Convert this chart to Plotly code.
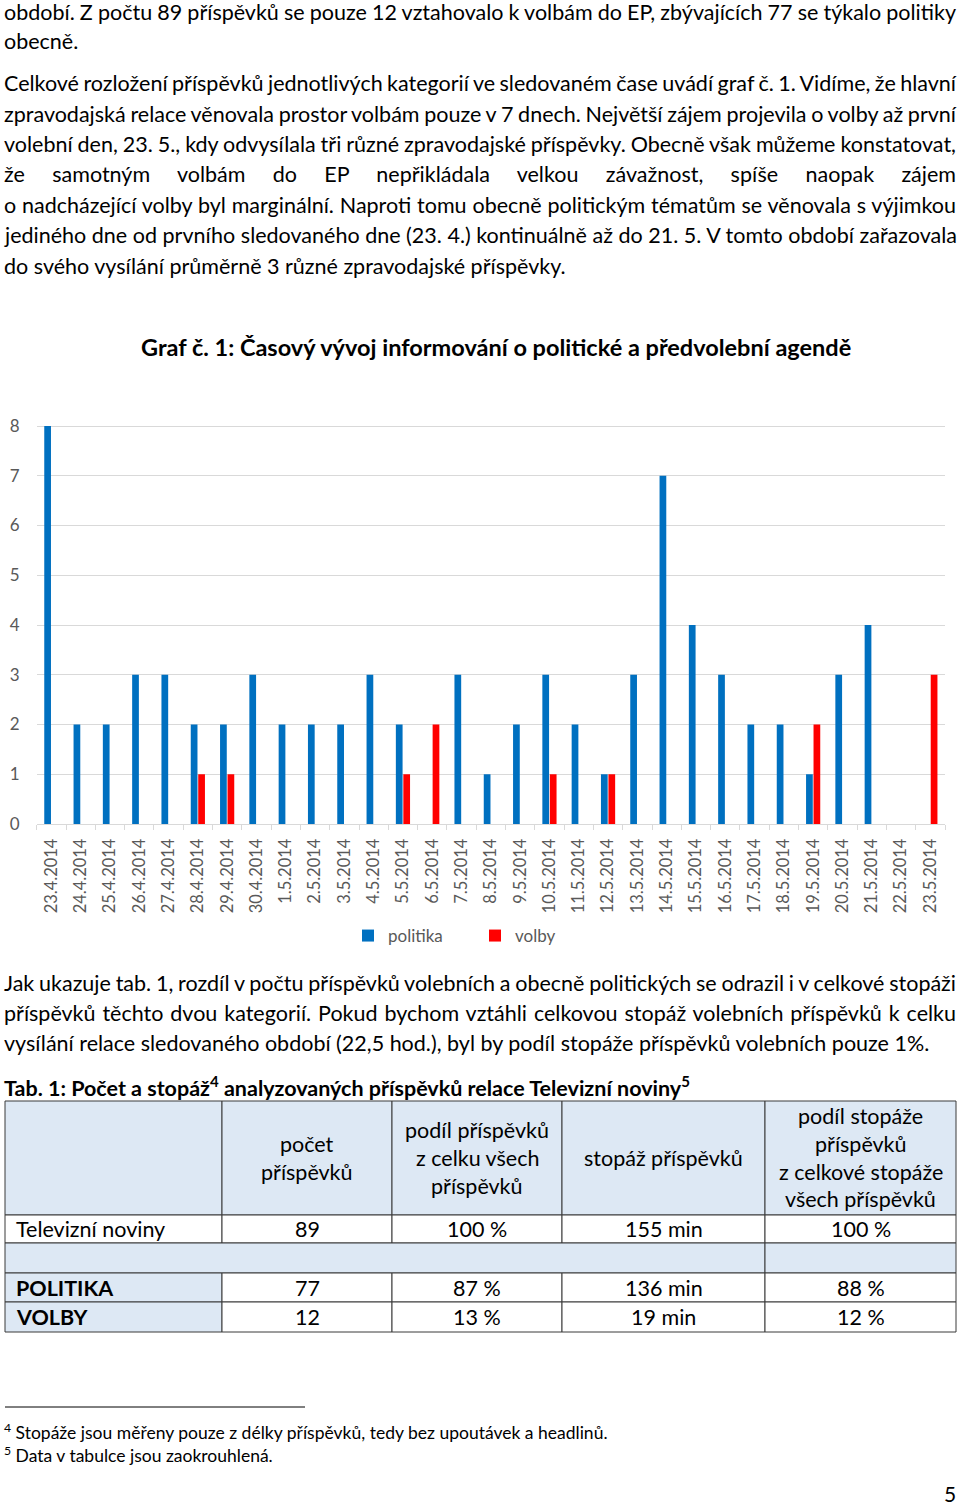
import plotly.graph_objects as go

# ---------------- data ----------------
dates = ["23.4.2014", "24.4.2014", "25.4.2014", "26.4.2014", "27.4.2014", "28.4.2014",
         "29.4.2014", "30.4.2014", "1.5.2014", "2.5.2014", "3.5.2014", "4.5.2014",
         "5.5.2014", "6.5.2014", "7.5.2014", "8.5.2014", "9.5.2014", "10.5.2014",
         "11.5.2014", "12.5.2014", "13.5.2014", "14.5.2014", "15.5.2014", "16.5.2014",
         "17.5.2014", "18.5.2014", "19.5.2014", "20.5.2014", "21.5.2014", "22.5.2014",
         "23.5.2014"]
politika = [8, 2, 2, 3, 3, 2, 2, 3, 2, 2, 2, 3, 2, 0, 3, 1, 2, 3, 2, 1, 3, 7, 4, 3, 2, 2, 1, 3, 4, 0, 0]
volby = [0, 0, 0, 0, 0, 1, 1, 0, 0, 0, 0, 0, 1, 2, 0, 0, 0, 1, 0, 1, 0, 0, 0, 0, 0, 0, 2, 0, 0, 0, 3]
y_ticks = [0, 1, 2, 3, 4, 5, 6, 7, 8]
series_names = ["politika", "volby"]

chart_title = "Graf č. 1: Časový vývoj informování o politické a předvolební agendě"

para_top = [
    "období. Z počtu 89 příspěvků se pouze 12 vztahovalo k volbám do EP, zbývajících 77 se týkalo politiky",
    "obecně.",
]
para_graf = [
    "Celkové rozložení příspěvků jednotlivých kategorií ve sledovaném čase uvádí graf č. 1. Vidíme, že hlavní",
    "zpravodajská relace věnovala prostor volbám pouze v 7 dnech. Největší zájem projevila o volby až první",
    "volební den, 23. 5., kdy odvysílala tři různé zpravodajské příspěvky. Obecně však můžeme konstatovat,",
    "že samotným volbám do EP nepřikládala velkou závažnost, spíše naopak zájem",
    "o nadcházející volby byl marginální. Naproti tomu obecně politickým tématům se věnovala s výjimkou",
    "jediného dne od prvního sledovaného dne (23. 4.) kontinuálně až do 21. 5. V tomto období zařazovala",
    "do svého vysílání průměrně 3 různé zpravodajské příspěvky.",
]
para_tab = [
    "Jak ukazuje tab. 1, rozdíl v počtu příspěvků volebních a obecně politických se odrazil i v celkové stopáži",
    "příspěvků těchto dvou kategorií. Pokud bychom vztáhli celkovou stopáž volebních příspěvků k celku",
    "vysílání relace sledovaného období (22,5 hod.), byl by podíl stopáže příspěvků volebních pouze 1%.",
]
table_title = "Tab. 1: Počet a stopáž<sup>4</sup> analyzovaných příspěvků relace Televizní noviny<sup>5</sup>"

table_header = [
    [],
    ["počet", "příspěvků"],
    ["podíl příspěvků", "z celku všech", "příspěvků"],
    ["stopáž příspěvků"],
    ["podíl stopáže", "příspěvků", "z celkové stopáže", "všech příspěvků"],
]
row_labels = ["Televizní noviny", "", "POLITIKA", "VOLBY"]
pocet = ["89", "", "77", "12"]
podil = ["100 %", "", "87 %", "13 %"]
stopaz = ["155 min", "", "136 min", "19 min"]
podil_stopaze = ["100 %", "", "88 %", "12 %"]

footnotes = [
    "<sup>4</sup> Stopáže jsou měřeny pouze z délky příspěvků, tedy bez upoutávek a headlinů.",
    "<sup>5</sup> Data v tabulce jsou zaokrouhlená.",
]
page_number = "5"

# ---------------- styling ----------------
W, H = 960, 1507
FONT = "Lato"
TS = 21.5
BLUE = "#0070C0"
RED = "#FF0000"
GRID = "#D9D9D9"
AXTXT = "#595959"
CELL = "#DDE8F4"
BORDER = "#3A3A3A"


def X(px):
    return px / W


def Y(py):
    return 1 - py / H


fig = go.Figure()
fig.add_trace(go.Bar(x=dates, y=politika, name=series_names[0],
                     marker=dict(color=BLUE, line=dict(width=0))))
fig.add_trace(go.Bar(x=dates, y=volby, name=series_names[1],
                     marker=dict(color=RED, line=dict(width=0))))

PLOT_L, PLOT_R = 36.7, 945.0
Y0_PX, Y8_PX = 824.0, 426.0
unit = (Y0_PX - Y8_PX) / 8.0
YMAX = 8.25
top_px = Y0_PX - YMAX * unit

fig.update_layout(
    width=W, height=H,
    margin=dict(l=0, r=0, t=0, b=0),
    paper_bgcolor="white", plot_bgcolor="white",
    barmode="group", bargap=0.49, bargroupgap=0.1,
    font=dict(family=FONT, color="black"),
    xaxis=dict(domain=[X(PLOT_L), X(PLOT_R)], type="category", tickangle=-90,
               tickfont=dict(family=FONT, size=16.5, color=AXTXT),
               showline=True, linecolor=GRID, linewidth=1,
               ticks="outside", tickson="boundaries", ticklen=5, tickcolor=GRID,
               showgrid=False, automargin=False, ticklabelstandoff=7, fixedrange=True),
    yaxis=dict(domain=[Y(Y0_PX), Y(top_px)], range=[0, YMAX], tickmode="array",
               tickvals=y_ticks, ticktext=[str(v) for v in y_ticks],
               showgrid=True, gridcolor=GRID, gridwidth=1, zeroline=False, showline=False,
               tickfont=dict(family=FONT, size=17, color=AXTXT), ticklabelstandoff=16,
               automargin=False, fixedrange=True),
    legend=dict(orientation="h", x=X(348), xanchor="left", y=Y(936), yanchor="middle",
                font=dict(family=FONT, size=17, color=AXTXT), entrywidth=82,
                entrywidthmode="pixels", bgcolor="rgba(0,0,0,0)", itemclick=False),
    showlegend=True,
)

annotations = []
justify = []  # (annotation index, target width)

LEFT = 4
RIGHT = 956


def add_text(text, x, y, size=TS, bold=False, xanchor="left", color="black", just=False):
    annotations.append(dict(
        text=text, x=X(x), y=Y(y), xref="paper", yref="paper",
        xanchor=xanchor, yanchor="middle", align=xanchor if xanchor != "center" else "center",
        showarrow=False, borderpad=0, borderwidth=0,
        font=dict(family=FONT, size=size, color=color, weight="bold" if bold else "normal"),
    ))
    if just:
        justify.append((len(annotations) - 1, RIGHT - x))


# paragraph above chart
for i, (line, yy) in enumerate(zip(para_top, [12.5, 41])):
    add_text(line, LEFT, yy, just=(i == 0))
graf_y = [83, 114, 144, 174, 205, 235, 266]
for i, (line, yy) in enumerate(zip(para_graf, graf_y)):
    add_text(line, LEFT, yy, just=(i < len(para_graf) - 1))

# chart title
add_text(chart_title, 496, 347, size=23.5, bold=True, xanchor="center")

# paragraph below chart
for i, (line, yy) in enumerate(zip(para_tab, [983, 1013, 1043])):
    add_text(line, LEFT, yy, just=(i < len(para_tab) - 1))
add_text(table_title, LEFT, 1086, bold=True)

# table
col_x = [5, 222, 392, 562, 765, 956]
row_y = [1101, 1215, 1243, 1273, 1302, 1332]
shapes = []


def cell(x0, y0, x1, y1, fill):
    shapes.append(dict(type="rect", xref="paper", yref="paper",
                       x0=X(x0), x1=X(x1), y0=Y(y1), y1=Y(y0),
                       fillcolor=fill, line=dict(color=BORDER, width=1), layer="above"))


for c in range(5):
    cell(col_x[c], row_y[0], col_x[c + 1], row_y[1], CELL)
for c in range(5):
    cell(col_x[c], row_y[1], col_x[c + 1], row_y[2], "white")
cell(col_x[0], row_y[2], col_x[4], row_y[3], CELL)
cell(col_x[4], row_y[2], col_x[5], row_y[3], CELL)
for r in (3, 4):
    cell(col_x[0], row_y[r], col_x[1], row_y[r + 1], CELL)
    for c in range(1, 5):
        cell(col_x[c], row_y[r], col_x[c + 1], row_y[r + 1], "white")

header_line_y = {1: [1144, 1172], 2: [1130, 1158, 1186], 3: [1158], 4: [1116, 1144, 1172, 1199]}
for c in range(1, 5):
    cx = (col_x[c] + col_x[c + 1]) / 2
    for line, yy in zip(table_header[c], header_line_y[c]):
        add_text(line, cx, yy, xanchor="center")

row_center = [1229, 1258, 1288, 1317]
value_cols = [pocet, podil, stopaz, podil_stopaze]
for r in range(4):
    if row_labels[r]:
        add_text(row_labels[r], 16, row_center[r], bold=(r >= 2))
    for c, vals in enumerate(value_cols, start=1):
        if vals[r]:
            add_text(vals[r], (col_x[c] + col_x[c + 1]) / 2, row_center[r], xanchor="center")

# footnotes
shapes.append(dict(type="line", xref="paper", yref="paper", x0=X(5), x1=X(305),
                   y0=Y(1407), y1=Y(1407), line=dict(color="black", width=1)))
for line, yy in zip(footnotes, [1431, 1454]):
    add_text(line, 4, yy, size=17.5)
add_text(page_number, 956, 1493, size=21, xanchor="right")

fig.update_layout(annotations=annotations, shapes=shapes)

js_pairs = ",".join("[%d,%.1f]" % (i, w) for i, w in justify)
post = """
document.body.style.margin = '0';
document.body.style.padding = '0';
var gd = document.querySelector('.plotly-graph-div');
var J = [%s];
J.forEach(function(p){
  var g = gd.querySelector('g.annotation[data-index="' + p[0] + '"]');
  if (!g) return;
  var t = g.querySelector('text.annotation-text') || g.querySelector('text');
  if (!t) return;
  var w = t.getComputedTextLength();
  var n = (t.textContent.match(/ /g) || []).length;
  if (n > 0) { t.style.wordSpacing = ((p[1] - w) / n) + 'px'; }
});
""" % js_pairs

fig.write_html("out.html", post_script=post, config={"displayModeBar": False, "staticPlot": True})
